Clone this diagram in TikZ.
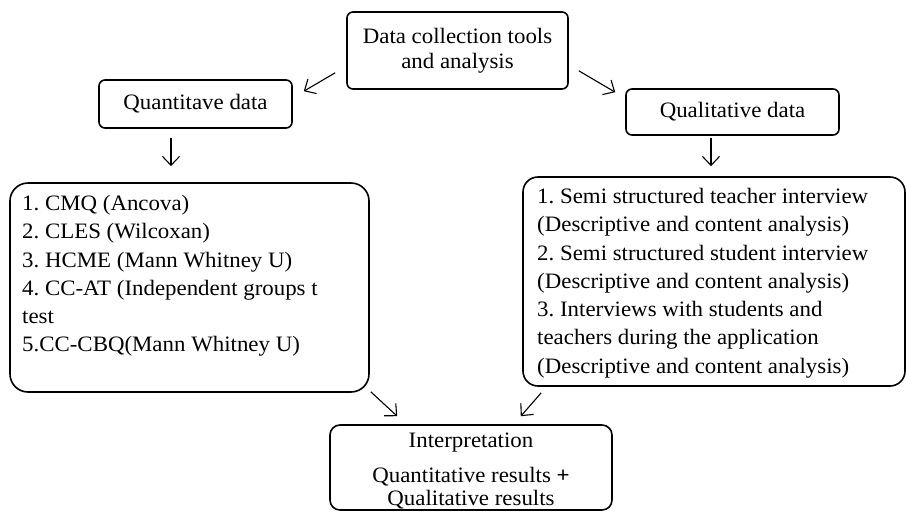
\documentclass[tikz,border=0pt]{standalone}
\usepackage{fontspec}
\setmainfont[FakeStretch=1.04]{Liberation Serif}
\usetikzlibrary{arrows.meta,calc}
\begin{document}
\frenchspacing
\begin{tikzpicture}[x=1pt,y=-1pt,
  box/.style={draw, line width=1.6pt, rounded corners=6pt, inner sep=0pt},
  bigbox/.style={draw, line width=1.6pt, rounded corners=18pt, inner sep=0pt},
  txt/.style={inner sep=0pt, font=\fontsize{22}{28.3}\selectfont},
  arr/.style={line width=1.1pt, -{Straight Barb[length=9pt,width=17pt,line width=1.1pt]}}
]
\useasboundingbox (0,0) rectangle (906,512);
\fill[white] (0,0) rectangle (906,512);

% top box
\node[box, minimum width=221pt, minimum height=77pt, align=center,
  font=\fontsize{22}{25}\selectfont] (top) at (457.5,50.5) {Data collection tools\\and analysis};

% second level
\node[box, minimum width=193pt, minimum height=48pt, font=\fontsize{22}{25}\selectfont] (qn) at (195.5,104) {Quantitave data};
\node[box, minimum width=213pt, minimum height=46pt, font=\fontsize{22}{25}\selectfont] (ql) at (732.5,112) {Qualitative data};

% big boxes
\node[bigbox, minimum width=359pt, minimum height=209pt] (lb) at (189.5,287.5) {};
\node[bigbox, rounded corners=15pt, minimum width=382pt, minimum height=209pt] (rb) at (714,281.5) {};

\node[txt, anchor=north west, align=left] (lt) at (22,195) {%
1. CMQ (Ancova)\\
2. CLES (Wilcoxan)\\
3. HCME (Mann Whitney U)\\
4. CC-AT (Independent groups t\\
test\\
5.CC-CBQ(Mann Whitney U)};

\node[txt, anchor=north west, align=left] (rt) at (537,188) {%
1. Semi structured teacher interview\\
(Descriptive and content analysis)\\
2. Semi structured student interview\\
(Descriptive and content analysis)\\
3. Interviews with students and\\
teachers during the application\\
(Descriptive and content analysis)};

% interpretation box
\node[box, rounded corners=10pt, minimum width=282pt, minimum height=85pt] (ib) at (471,467.5) {};
\node[txt, anchor=base] (it1) at (471,447) {Interpretation};
\node[txt, anchor=base, align=center, font=\fontsize{22}{23}\selectfont] (it2) at (471,505) {Quantitative results \textbf{+}\\Qualitative results};

% arrows
\draw[arr] ($(top.south west)+(-11,-17)$) -- ($(qn.north east)+(11,12)$);
\draw[arr] ($(top.south east)+(10,-19)$) -- ($(ql.north west)+(-10,4)$);
\draw[arr] ($(qn.south)+(-24.5,9)$) -- ($(lb.north)+(-18.5,-16)$);
\draw[arr] ($(ql.south)+(-21.5,2)$) -- ($(rb.north)+(-3,-10)$);
\draw[arr] ($(lb.south east)+(1,-1)$) -- ($(ib.north west)+(68,-8)$);
\draw[arr] ($(rb.south west)+(19,6)$) -- ($(ib.north east)+(-92,-8)$);
\end{tikzpicture}
\end{document}
